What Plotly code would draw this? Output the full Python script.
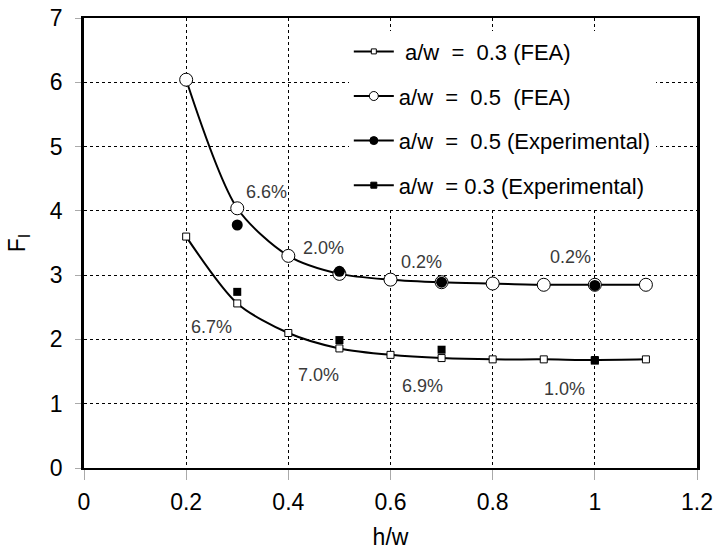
import plotly.graph_objects as go

hw_fea = [0.2, 0.3, 0.4, 0.5, 0.6, 0.7, 0.8, 0.9, 1.0, 1.1]
fea_03 = [3.60, 2.56, 2.10, 1.86, 1.76, 1.71, 1.69, 1.69, 1.68, 1.69]
fea_05 = [6.04, 4.04, 3.30, 3.02, 2.93, 2.89, 2.87, 2.85, 2.85, 2.85]

hw_exp = [0.3, 0.5, 0.7, 1.0]
exp_05 = [3.78, 3.06, 2.89, 2.84]
exp_03 = [2.74, 1.99, 1.84, 1.67]

err_labels = ["6.6%", "2.0%", "0.2%", "0.2%", "6.7%", "7.0%", "6.9%", "1.0%"]
err_x = [0.357, 0.468, 0.66, 0.952, 0.25, 0.459, 0.663, 0.94]
err_y = [4.29, 3.43, 3.2, 3.28, 2.2, 1.45, 1.28, 1.23]

FONT = "Liberation Sans, Arial, sans-serif"
S = "\u00a0"

fig = go.Figure()

# data traces
fig.add_trace(go.Scatter(x=hw_fea, y=fea_03, mode="lines+markers", showlegend=False,
                         line=dict(color="black", width=2, shape="spline", smoothing=0.8),
                         marker=dict(symbol="square", size=7, color="white",
                                     line=dict(color="black", width=1))))
fig.add_trace(go.Scatter(x=hw_fea, y=fea_05, mode="lines+markers", showlegend=False,
                         line=dict(color="black", width=2, shape="spline", smoothing=0.8),
                         marker=dict(symbol="circle", size=13, color="white",
                                     line=dict(color="black", width=1))))
fig.add_trace(go.Scatter(x=hw_exp, y=exp_05, mode="markers", showlegend=False,
                         marker=dict(symbol="circle", size=11, color="black")))
fig.add_trace(go.Scatter(x=hw_exp, y=exp_03, mode="markers", showlegend=False,
                         marker=dict(symbol="square", size=8, color="black")))

# legend entries
leg = [
    (f"{S}a/w{S*2}={S*2}0.3 (FEA)", "square", 5, "white"),
    (f"a/w{S*2}={S*2}0.5{S*2}(FEA)", "circle", 9, "white"),
    (f"a/w{S*2}={S*2}0.5 (Experimental)", "circle", 8, "black"),
    (f"a/w{S*2}= 0.3 (Experimental)", "square", 6, "black"),
]
for i, (name, sym, sz, col) in enumerate(leg):
    fig.add_trace(go.Scatter(x=[None], y=[None], mode="lines+markers", name=name,
                             legendgroup=f"g{i}",
                             line=dict(color="black", width=2),
                             marker=dict(symbol=sym, size=sz, color=col,
                                         line=dict(color="black", width=1))))

for t, x, y in zip(err_labels, err_x, err_y):
    fig.add_annotation(x=x, y=y, text=t, showarrow=False,
                       font=dict(family=FONT, size=18, color="#3a3a3a"))

fig.update_layout(
    width=715, height=550,
    margin=dict(l=84, r=18, t=18, b=82, autoexpand=False),
    paper_bgcolor="white", plot_bgcolor="white",
    font=dict(family=FONT, color="black"),
    legend=dict(x=0.432, y=0.972, xanchor="left", yanchor="top",
                bgcolor="white", borderwidth=0,
                font=dict(family=FONT, size=22, color="black"),
                tracegroupgap=13, itemwidth=40),
    xaxis=dict(range=[0, 1.2], tickvals=[0, 0.2, 0.4, 0.6, 0.8, 1.0, 1.2],
               ticktext=["0", "0.2", "0.4", "0.6", "0.8", "1", "1.2"],
               showgrid=True, gridcolor="black", griddash="3px,3px", gridwidth=1,
               showline=True, linecolor="black", linewidth=2, mirror=True,
               ticks="outside", ticklen=10, tickcolor="#aaaaaa",
               ticklabelstandoff=2,
               tickfont=dict(size=23), zeroline=False, automargin=False,
               title=dict(text="h/w", font=dict(size=23), standoff=15)),
    yaxis=dict(range=[0, 7], dtick=1,
               showgrid=True, gridcolor="black", griddash="3px,3px", gridwidth=1,
               showline=True, linecolor="black", linewidth=2.5, mirror=True,
               ticks="outside", ticklen=6, tickcolor="#aaaaaa",
               ticklabelstandoff=8,
               tickfont=dict(size=23), zeroline=False, automargin=False,
               title=dict(text="F<sub>I</sub>", font=dict(size=23), standoff=18)),
)

fig.write_html("out.html", config={"displayModeBar": False},
               post_script="document.body.style.margin='0px';")
